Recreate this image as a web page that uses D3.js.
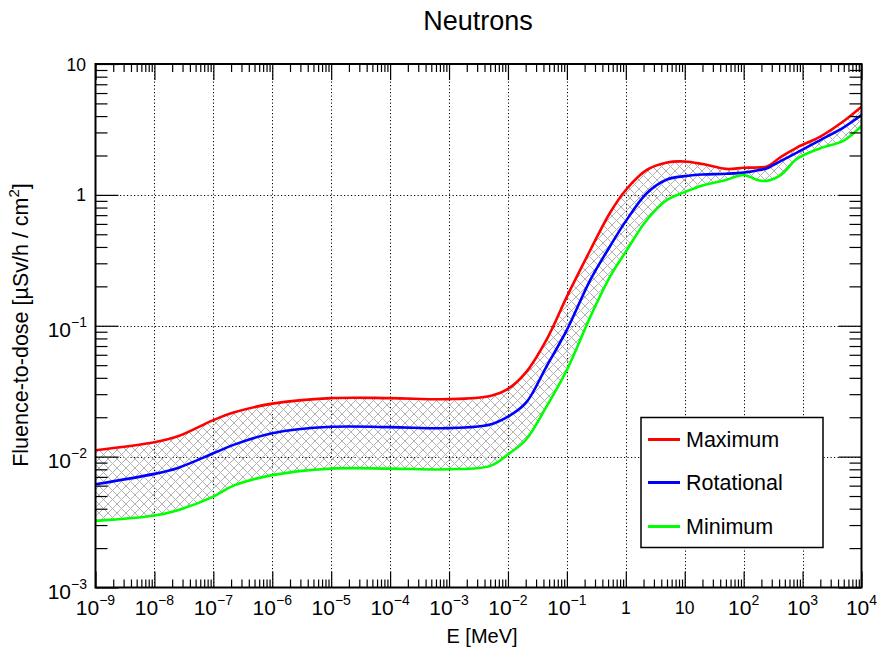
<!DOCTYPE html>
<html>
<head>
<meta charset="utf-8">
<script src="https://cdn.jsdelivr.net/npm/d3@7"></script>
<style>
  body { margin: 0; background: #fff; }
  svg { display: block; }
  text { font-family: "Liberation Sans", Arial, Helvetica, sans-serif; fill: #000; }
</style>
</head>
<body>
<svg id="chart" width="880" height="658"></svg>
<script>
// Energy points [MeV]
const energy = [1e-9, 1e-8, 2.5e-8, 1e-7, 2.2e-7, 1e-6, 1e-5, 1e-4, 1e-3, 5e-3, 1e-2, 2e-2, 4.5e-2, 0.1, 0.25, 0.54, 1, 2.27, 5, 10, 20, 50, 100, 170, 250, 430, 800, 2000, 5000, 1e4];
// Fluence-to-dose [uSv/h / cm^2]
const maximum    = [0.0112, 0.0129, 0.0143, 0.0190, 0.0217, 0.0254, 0.0280, 0.0280, 0.0275, 0.0291, 0.0329, 0.0438, 0.078, 0.167, 0.379, 0.73, 1.09, 1.55, 1.77, 1.80, 1.72, 1.58, 1.61, 1.62, 1.65, 1.95, 2.30, 2.79, 3.67, 4.72];
const rotational = [0.00615, 0.00738, 0.0082, 0.0106, 0.0123, 0.0151, 0.0169, 0.0168, 0.0165, 0.0176, 0.0202, 0.0256, 0.0488, 0.093, 0.224, 0.405, 0.63, 1.03, 1.31, 1.39, 1.43, 1.45, 1.48, 1.54, 1.60, 1.82, 2.10, 2.62, 3.28, 4.07];
const minimum    = [0.00323, 0.00355, 0.0039, 0.00495, 0.0060, 0.00722, 0.0081, 0.0081, 0.0080, 0.0085, 0.0104, 0.0134, 0.0241, 0.046, 0.117, 0.237, 0.368, 0.643, 0.914, 1.05, 1.18, 1.30, 1.42, 1.30, 1.28, 1.42, 1.88, 2.27, 2.60, 3.36];

const seriesNames = ["Maximum", "Rotational", "Minimum"];
const seriesColors = ["#ff0000", "#0000ff", "#00ff00"];
const seriesValues = [maximum, rotational, minimum];

const xDecades = d3.range(-9, 5);   // exponents of x tick labels
const yDecades = d3.range(-3, 2);   // exponents of y tick labels

const title = "Neutrons";
const xTitle = "E [MeV]";

const svg = d3.select("#chart");
const L = 95.5, R = 861.5, T = 64, B = 587.5;
const x = d3.scaleLog().domain([1e-9, 1e4]).range([L, R]);
const y = d3.scaleLog().domain([1e-3, 10]).range([B, T]);

// tick values
const xMajor = xDecades.map(e => Math.pow(10, e));
const xMinor = [];
xDecades.slice(0, -1).forEach(e => { for (let k = 2; k <= 9; k++) xMinor.push(k * Math.pow(10, e)); });
const yMajor = yDecades.map(e => Math.pow(10, e));
const yMinor = [];
yDecades.slice(0, -1).forEach(e => { for (let k = 2; k <= 9; k++) yMinor.push(k * Math.pow(10, e)); });

// hatch pattern
const defs = svg.append("defs");
const P = 9;
const pat = defs.append("pattern").attr("id", "hatch").attr("patternUnits", "userSpaceOnUse")
  .attr("width", P).attr("height", P);
pat.append("path").attr("d", `M0,0L${P},${P}M${P},0L0,${P}M-1,${P-1}L1,${P+1}M${P-1},-1L${P+1},1`)
  .attr("stroke", "#b3b3b3").attr("stroke-width", 1).attr("fill", "none");
defs.append("clipPath").attr("id", "clip").append("rect")
  .attr("x", L).attr("y", T).attr("width", R - L).attr("height", B - T);

// grid
const grid = svg.append("g").attr("stroke", "#000").attr("stroke-width", 1).attr("stroke-dasharray", "1.2,2.3");
grid.selectAll(".gx").data(xMajor.slice(1, -1)).join("line")
  .attr("x1", d => Math.round(x(d)) + 0.5).attr("x2", d => Math.round(x(d)) + 0.5)
  .attr("y1", T).attr("y2", B);
grid.selectAll(".gy").data(yMajor.slice(1, -1)).join("line")
  .attr("y1", d => Math.round(y(d)) + 0.5).attr("y2", d => Math.round(y(d)) + 0.5)
  .attr("x1", L).attr("x2", R);

const curve = d3.curveCatmullRom.alpha(0.5);

// band
const pts = energy.map((e, i) => ({ e, hi: maximum[i], lo: minimum[i] }));
const area = d3.area().x(d => x(d.e)).y0(d => y(d.lo)).y1(d => y(d.hi)).curve(curve);
svg.append("path").datum(pts).attr("d", area).attr("fill", "url(#hatch)").attr("clip-path", "url(#clip)");

// curves
const line = d3.line().x(d => x(d[0])).y(d => y(d[1])).curve(curve);
seriesValues.forEach((vals, s) => {
  svg.append("path").datum(energy.map((e, i) => [e, vals[i]]))
    .attr("d", line).attr("fill", "none").attr("stroke", seriesColors[s]).attr("stroke-width", 2.6)
    .attr("clip-path", "url(#clip)");
});

// axes with inward ticks on all four sides
function addAxis(gen, tr) {
  const g = svg.append("g").attr("transform", tr).call(gen);
  g.select(".domain").remove();
  g.selectAll("line").attr("stroke", "#000").attr("stroke-width", 1.2);
  g.selectAll("text").remove();
}
addAxis(d3.axisBottom(x).tickValues(xMinor).tickSize(-8), `translate(0,${B})`);
addAxis(d3.axisBottom(x).tickValues(xMajor).tickSize(-16), `translate(0,${B})`);
addAxis(d3.axisTop(x).tickValues(xMinor).tickSize(-8), `translate(0,${T})`);
addAxis(d3.axisTop(x).tickValues(xMajor).tickSize(-16), `translate(0,${T})`);
addAxis(d3.axisLeft(y).tickValues(yMinor).tickSize(-12), `translate(${L},0)`);
addAxis(d3.axisLeft(y).tickValues(yMajor).tickSize(-23), `translate(${L},0)`);
addAxis(d3.axisRight(y).tickValues(yMinor).tickSize(-12), `translate(${R},0)`);
addAxis(d3.axisRight(y).tickValues(yMajor).tickSize(-23), `translate(${R},0)`);

// frame
svg.append("rect").attr("x", L).attr("y", T).attr("width", R - L).attr("height", B - T)
  .attr("fill", "none").attr("stroke", "#000").attr("stroke-width", 2);

// x tick labels
xDecades.forEach(e => {
  const v = Math.pow(10, e);
  if (e === 0 || e === 1) {
    svg.append("text").attr("x", x(v)).attr("y", 614).attr("text-anchor", "middle")
      .attr("font-size", 17.5).text(e === 0 ? "1" : "10");
  } else {
    const t = svg.append("text").attr("x", x(v)).attr("y", 615).attr("text-anchor", "middle");
    t.append("tspan").attr("font-size", 21).text("10");
    t.append("tspan").attr("font-size", 14).attr("dy", -10).text(e < 0 ? "\u2212" + (-e) : String(e));
  }
});
// y tick labels
yDecades.forEach(e => {
  const v = Math.pow(10, e);
  if (e === 0 || e === 1) {
    svg.append("text").attr("x", 86).attr("y", y(v) + 6.5).attr("text-anchor", "end")
      .attr("font-size", 17.5).text(e === 0 ? "1" : "10");
  } else {
    const t = svg.append("text").attr("x", 87).attr("y", y(v) + 11.5).attr("text-anchor", "end");
    t.append("tspan").attr("font-size", 21).text("10");
    t.append("tspan").attr("font-size", 14).attr("dy", -10).text("\u2212" + (-e));
  }
});

// titles
svg.append("text").attr("x", 478).attr("y", 30).attr("text-anchor", "middle").attr("font-size", 27).text(title);
svg.append("text").attr("x", 482).attr("y", 643).attr("text-anchor", "middle").attr("font-size", 20).text(xTitle);
const yt = svg.append("text").attr("transform", "translate(28,325) rotate(-90)").attr("text-anchor", "middle").attr("font-size", 21.5);
yt.append("tspan").text("Fluence-to-dose [\u00b5Sv/h / cm");
yt.append("tspan").attr("font-size", 15).attr("dy", -9).text("2");
yt.append("tspan").attr("dy", 9).text("]");

// legend
const lg = svg.append("g");
lg.append("rect").attr("x", 641).attr("y", 417.5).attr("width", 182).attr("height", 130)
  .attr("fill", "#fff").attr("stroke", "#000").attr("stroke-width", 1.5);
const legY = [439.5, 482.5, 526.5];
seriesNames.forEach((n, i) => {
  lg.append("line").attr("x1", 648).attr("x2", 680).attr("y1", legY[i]).attr("y2", legY[i])
    .attr("stroke", seriesColors[i]).attr("stroke-width", 3);
  lg.append("text").attr("x", 686).attr("y", legY[i] + 7.5).attr("font-size", 21.5).text(n);
});
</script>
</body>
</html>
